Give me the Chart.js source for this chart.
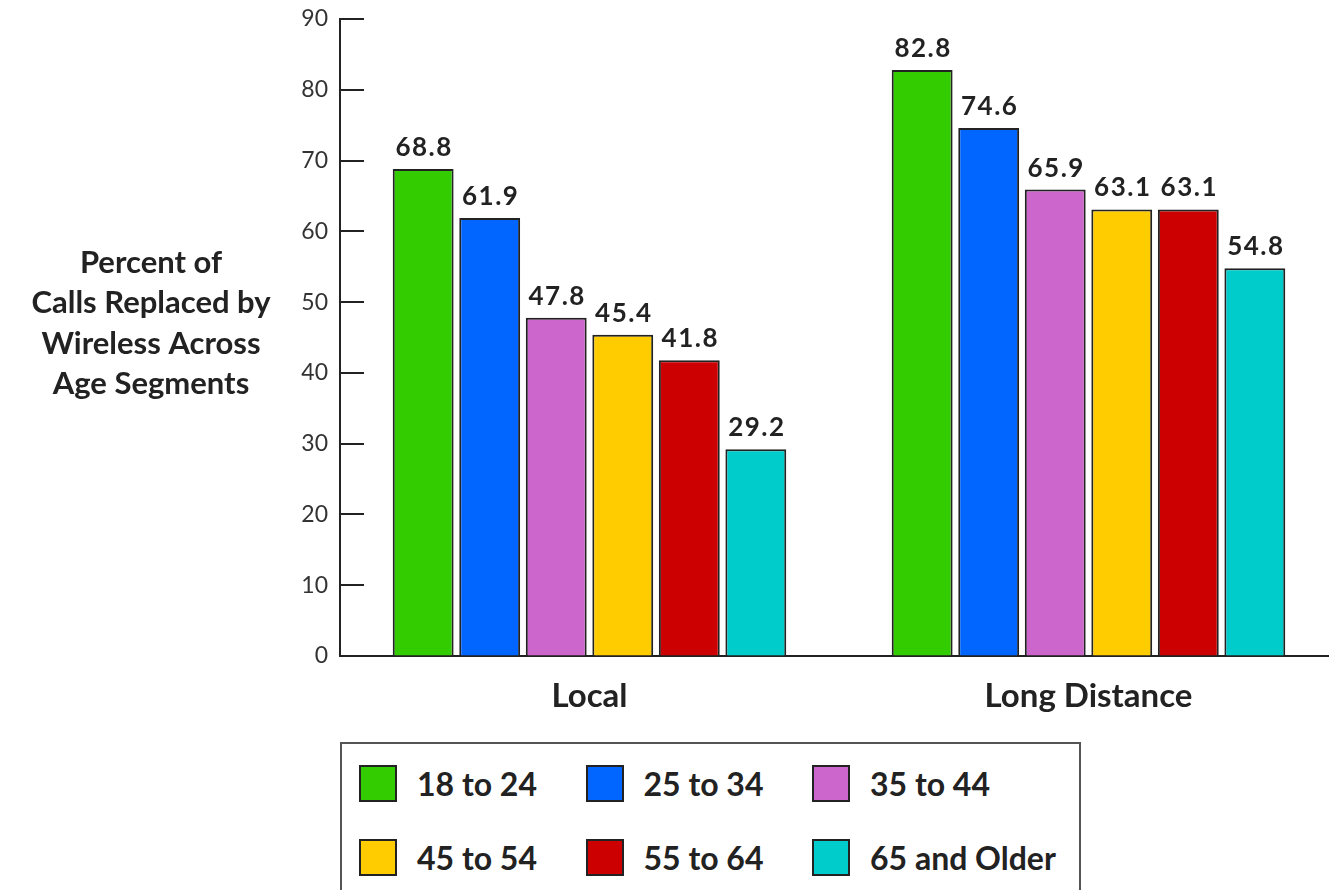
<!DOCTYPE html>
<html>
<head>
<meta charset="utf-8">
<script src="https://cdn.jsdelivr.net/npm/chart.js@4/dist/chart.umd.min.js"></script>
<style>
  html, body { margin: 0; padding: 0; background: #fff; overflow: hidden; }
  #wrap { position: absolute; left: 0; top: 0; width: 1338px; height: 890px; }
  #legend {
    position: absolute; left: 340px; top: 742px; width: 737px; height: 170px;
    border: 2px solid #555; background: #fff;
    font-family: Lato, "Open Sans", sans-serif; font-weight: bold; color: #222;
  }
  .item { position: absolute; display: flex; align-items: center; }
  .swatch { width: 34px; height: 33px; border: 2px solid #222; }
  .label { margin-left: 20px; font-size: 32px; line-height: 37px; }
</style>
</head>
<body>
<div id="wrap"><canvas id="chart" width="1338" height="890"></canvas></div>
<div id="legend"></div>
<script>
// Survey results: share of calls moved to wireless, by call type and age group
const categories = ['Local', 'Long Distance'];
const ageGroups = ['18 to 24', '25 to 34', '35 to 44', '45 to 54', '55 to 64', '65 and Older'];
const localValues = [68.8, 61.9, 47.8, 45.4, 41.8, 29.2];
const longDistanceValues = [82.8, 74.6, 65.9, 63.1, 63.1, 54.8];
const groupColors = ['#33cc00', '#0066ff', '#cc66cc', '#ffcc00', '#cc0000', '#00cccc'];
const yTickValues = [0, 10, 20, 30, 40, 50, 60, 70, 80, 90];
const axisTitleLines = ['Percent of', 'Calls Replaced by', 'Wireless Across', 'Age Segments'];

const FONT = 'Lato, "Open Sans", sans-serif';
const INK = '#222';

const datasets = ageGroups.map((name, i) => ({
  label: name,
  data: [localValues[i], longDistanceValues[i]],
  backgroundColor: groupColors[i],
  borderColor: INK,
  borderWidth: 2,
  borderSkipped: 'bottom',
  categoryPercentage: 0.8,
  barPercentage: 0.915
}));

// Short tick marks pointing into the plot area, plus the horizontal side title
const axisExtras = {
  id: 'axisExtras',
  afterDraw(chart) {
    const ctx = chart.ctx;
    const y = chart.scales.y;
    const left = chart.chartArea.left;
    ctx.save();
    ctx.strokeStyle = INK;
    ctx.lineWidth = 2;
    yTickValues.forEach(v => {
      const py = Math.round(y.getPixelForValue(v));
      ctx.beginPath();
      ctx.moveTo(left, py);
      ctx.lineTo(left + 24, py);
      ctx.stroke();
    });
    ctx.fillStyle = INK;
    ctx.font = 'bold 31px ' + FONT;
    ctx.textAlign = 'center';
    ctx.textBaseline = 'alphabetic';
    axisTitleLines.forEach((line, i) => {
      ctx.fillText(line, 151, 273 + i * 40.3);
    });
    ctx.restore();
  }
};

// Value printed above every bar
const valueLabels = {
  id: 'valueLabels',
  afterDatasetsDraw(chart) {
    const ctx = chart.ctx;
    ctx.save();
    ctx.fillStyle = INK;
    ctx.font = 'bold 26px ' + FONT;
    ctx.letterSpacing = '1.5px';
    ctx.textAlign = 'center';
    ctx.textBaseline = 'alphabetic';
    chart.data.datasets.forEach((ds, di) => {
      chart.getDatasetMeta(di).data.forEach((bar, idx) => {
        ctx.fillText(ds.data[idx].toFixed(1), bar.x + 1, bar.y - 13);
      });
    });
    ctx.restore();
  }
};

const chart = new Chart(document.getElementById('chart'), {
  type: 'bar',
  data: { labels: categories, datasets },
  options: {
    responsive: false,
    animation: false,
    layout: { padding: { top: 19, left: 0, right: 0, bottom: 0 } },
    plugins: {
      legend: { display: false },
      tooltip: { enabled: false }
    },
    scales: {
      x: {
        grid: { display: true, drawOnChartArea: false, drawTicks: false },
        border: { display: true, color: INK, width: 2 },
        ticks: {
          color: INK,
          padding: 21,
          font: { family: FONT, size: 33, weight: 'bold' }
        },
        afterFit(scale) { scale.height = 234; }
      },
      y: {
        min: 0,
        max: 90,
        grid: { display: true, drawOnChartArea: false, drawTicks: false },
        border: { display: true, color: INK, width: 2 },
        ticks: {
          stepSize: 10,
          color: '#333',
          padding: 12,
          font: { family: FONT, size: 23 }
        },
        afterFit(scale) {
          scale.width = 340;
          scale.paddingTop = 0;
          scale.paddingBottom = 0;
        }
      }
    }
  },
  plugins: [axisExtras, valueLabels]
});

// Legend: two rows of three entries
const legend = document.getElementById('legend');
ageGroups.forEach((name, i) => {
  const col = i % 3, row = Math.floor(i / 3);
  const item = document.createElement('div');
  item.className = 'item';
  item.style.left = (17 + col * 226.5) + 'px';
  item.style.top = (21 + row * 74) + 'px';
  const sw = document.createElement('div');
  sw.className = 'swatch';
  sw.style.background = groupColors[i];
  const tx = document.createElement('span');
  tx.className = 'label';
  tx.textContent = name;
  item.appendChild(sw);
  item.appendChild(tx);
  legend.appendChild(item);
});
</script>
</body>
</html>
